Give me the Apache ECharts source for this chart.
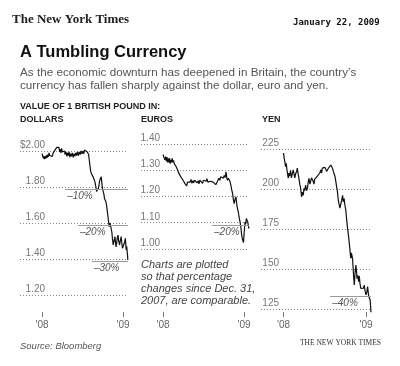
<!DOCTYPE html>
<html><head><meta charset="utf-8">
<script src="https://cdn.jsdelivr.net/npm/echarts@6/dist/echarts.min.js"></script>
<style>html,body{margin:0;padding:0;background:#fff}#c{width:400px;height:366px}</style>
</head><body><div id="c"></div>
<script>
// Days since Jan 1, 2008 -> value of 1 British pound
const usd = [[0,1.985],[3,1.975],[5,1.96],[7,1.972],[10,1.955],[13,1.97],[16,1.958],[19,1.975],[22,1.962],[25,1.98],[28,1.968],[31,1.99],[34,1.975],[37,1.985],[40,1.965],[43,1.98],[46,1.97],[50,1.99],[54,1.985],[58,2.005],[62,2.0],[66,2.02],[70,2.03],[73,2.01],[76,2.02],[79,1.995],[82,2.01],[85,1.99],[88,2.015],[91,1.995],[95,2.005],[98,1.985],[101,2.0],[104,1.98],[108,1.995],[112,1.97],[115,1.99],[118,1.975],[122,1.995],[125,1.965],[128,1.985],[132,1.97],[136,1.99],[140,1.965],[144,1.985],[148,1.97],[152,1.99],[156,1.975],[160,1.995],[164,1.975],[168,1.995],[172,1.98],[176,2.0],[180,1.985],[184,2.0],[188,1.985],[192,2.005],[196,1.995],[200,2.008],[204,1.995],[207,2.0],[210,1.98],[213,1.95],[216,1.92],[219,1.89],[222,1.876],[225,1.88],[228,1.865],[231,1.855],[234,1.85],[237,1.835],[240,1.82],[243,1.8],[246,1.775],[249,1.765],[252,1.78],[255,1.795],[258,1.82],[261,1.84],[264,1.85],[267,1.857],[270,1.82],[273,1.79],[276,1.78],[279,1.76],[282,1.735],[285,1.725],[288,1.72],[291,1.7],[294,1.67],[297,1.64],[300,1.61],[303,1.58],[306,1.6],[309,1.585],[312,1.575],[315,1.55],[318,1.51],[321,1.478],[325,1.5],[329,1.524],[332,1.49],[334,1.467],[337,1.49],[340,1.52],[343,1.533],[346,1.5],[350,1.478],[353,1.5],[357,1.524],[360,1.49],[363,1.46],[366,1.45],[369,1.47],[372,1.49],[376,1.515],[378,1.48],[380,1.45],[382,1.47],[384,1.46],[386,1.42],[387,1.394]];
const eur = [[0,1.36],[3,1.35],[5,1.357],[8,1.34],[11,1.352],[14,1.335],[17,1.35],[20,1.33],[23,1.345],[26,1.33],[29,1.345],[32,1.325],[35,1.34],[38,1.33],[41,1.345],[44,1.33],[47,1.338],[50,1.325],[54,1.33],[58,1.315],[62,1.318],[66,1.3],[70,1.29],[74,1.285],[78,1.29],[82,1.272],[86,1.275],[90,1.262],[94,1.265],[98,1.25],[102,1.245],[106,1.24],[110,1.255],[114,1.25],[118,1.262],[122,1.255],[126,1.265],[130,1.25],[134,1.26],[138,1.252],[142,1.262],[146,1.255],[150,1.265],[154,1.252],[158,1.26],[162,1.248],[166,1.262],[170,1.255],[174,1.265],[178,1.25],[182,1.262],[186,1.255],[190,1.265],[194,1.258],[198,1.268],[202,1.255],[206,1.262],[210,1.25],[214,1.258],[218,1.252],[222,1.262],[226,1.255],[230,1.26],[234,1.25],[238,1.245],[241,1.243],[244,1.255],[248,1.262],[252,1.27],[256,1.262],[260,1.275],[264,1.268],[268,1.278],[272,1.27],[276,1.28],[280,1.272],[284,1.294],[288,1.27],[291,1.262],[295,1.27],[299,1.275],[303,1.255],[306,1.243],[310,1.225],[314,1.211],[317,1.19],[321,1.173],[325,1.19],[329,1.199],[332,1.175],[336,1.154],[340,1.14],[343,1.122],[347,1.105],[351,1.085],[355,1.053],[359,1.035],[363,1.025],[366,1.059],[368,1.08],[370,1.103],[373,1.095],[376,1.116],[379,1.11],[382,1.104],[385,1.09],[388,1.078]];
const jpy = [[0,222.5],[3,219],[6,217],[9,214],[12,216],[15,212],[18,213],[21,206.7],[24,210],[27,208],[31,211.6],[35,207],[39,208],[43,212],[46,211.6],[50,207],[54,209.7],[58,211],[61,213],[64,210],[68,207],[72,203],[76,200.4],[80,195],[83,198],[87,196],[91,200.4],[94,199],[98,202.5],[102,199],[106,200.4],[110,205],[113,206.7],[117,203],[120,204.6],[124,207],[128,208],[131,205],[135,203],[138,206],[142,206.7],[146,205],[150,208],[154,207],[157,209],[161,210],[165,211.9],[169,210],[172,213],[176,212],[180,211.9],[184,213.5],[187,213],[191,211],[195,211.9],[199,213],[202,214],[206,213],[210,215],[213,214],[217,213],[221,211],[224,211],[228,208],[232,204.6],[236,201],[239,198.5],[243,193],[247,190],[250,188],[254,188],[258,193],[262,196],[265,192],[269,194],[272,190],[276,187],[280,181],[284,175.4],[288,171],[291,167],[294,163],[297,158],[299,156.7],[301,160],[303,160.3],[306,156.7],[309,150],[311,145],[314,140],[317,147],[321,152.5],[324,148],[326,144],[330,146],[333,142],[336,145.6],[339,141],[343,137.9],[347,139],[351,137],[355,138],[358,140],[362,136],[366,133.8],[370,136],[373,139],[376,135],[378,133],[381,132],[384,130.6],[386,127],[388,123]];

// Value on Dec. 31, 2007 used for percentage reference lines
const baseValues = [1.985, 1.363, 222];
const panelNames = ['DOLLARS', 'EUROS', 'YEN'];
// [percent change, first day the reference line is drawn]
const usdPct = [[-10,104],[-20,162],[-30,225]];
const eurPct = [[-20,221]];
const jpyPct = [[-40,207]];
const yearTickDays = [0, 366];
const yearTickLabels = ["'08", "'09"];
const yRanges = [[1.2, 2.0, 0.2], [1.0, 1.4, 0.1], [125, 225, 25]];

// layout
const gridBoxes = [
  {left: 20, top: 151, width: 108, height: 144, xOffset: 17, labelMargin: 25},
  {left: 141, top: 144, width: 108, height: 105, xOffset: 63, labelMargin: 19},
  {left: 261, top: 149, width: 110, height: 160, xOffset: 3, labelMargin: 18}
];
const xMin = -100, xMax = 388;
const seriesData = [usd, eur, jpy];
const pctData = [usdPct, eurPct, jpyPct];
const fmt = [
  v => (Math.abs(v - 2) < 1e-6 ? '$2.00' : v.toFixed(2)),
  v => v.toFixed(2),
  v => String(Math.round(v))
];

const chart = echarts.init(document.getElementById('c'), null, {renderer: 'canvas'});
const grid = [], xAxis = [], yAxis = [], series = [];
gridBoxes.forEach((g, i) => {
  grid.push({left: g.left, top: g.top, width: g.width, height: g.height, containLabel: false});
  xAxis.push({
    type: 'value', gridIndex: i, min: xMin, max: xMax, position: 'bottom', offset: g.xOffset,
    axisLine: {show: false},
    axisTick: {show: true, customValues: yearTickDays, length: 5, lineStyle: {color: '#777', width: 1}},
    axisLabel: {show: true, customValues: yearTickDays, margin: 8, color: '#666', fontSize: 10,
      fontFamily: 'Liberation Sans, Arial, sans-serif',
      formatter: v => yearTickLabels[yearTickDays.indexOf(v)] || ''},
    splitLine: {show: false}
  });
  const r = yRanges[i];
  yAxis.push({
    type: 'value', gridIndex: i, min: r[0], max: r[1], interval: r[2],
    axisLine: {show: false}, axisTick: {show: false},
    axisLabel: {inside: true, align: 'right', verticalAlign: 'bottom', margin: g.labelMargin,
      color: '#777', fontSize: 10, fontFamily: 'Liberation Sans, Arial, sans-serif',
      formatter: fmt[i], padding: [0, 0, 1, 0]},
    splitLine: {show: true, lineStyle: {color: '#888', width: 1, type: [1, 2]}}
  });
  const ml = pctData[i].map(p => {
    const v = baseValues[i] * (1 + p[0] / 100);
    return [{coord: [p[1], v], name: '\u2013' + Math.abs(p[0]) + '%'}, {coord: [xMax, v]}];
  });
  series.push({
    type: 'line', xAxisIndex: i, yAxisIndex: i, data: seriesData[i],
    showSymbol: false, symbol: 'none', clip: false, animation: false,
    lineStyle: {color: '#111', width: 1.2},
    markLine: {
      silent: true, symbol: ['none', 'none'], animation: false,
      lineStyle: {color: '#9a9a9a', width: 1, type: 'solid'},
      label: {show: true, position: 'insideStartBottom', formatter: '{b}', color: '#555',
        fontStyle: 'italic', fontSize: 10, fontFamily: 'Liberation Sans, Arial, sans-serif', distance: 2},
      data: ml
    },
    z: 3
  });
});

const sans = 'Liberation Sans, Arial, Helvetica, sans-serif';
const graphic = [
  {type: 'text', left: 12, top: 13, style: {text: 'The New York Times', font: 'bold 13px "Liberation Serif", "DejaVu Serif", serif', fill: '#222'}},
  {type: 'text', left: 293, top: 18, style: {text: 'January 22, 2009', font: 'bold 9px "DejaVu Sans Mono", monospace', fill: '#111'}},
  {type: 'text', left: 20, top: 44, style: {text: 'A Tumbling Currency', font: 'bold 16.5px ' + sans, fill: '#111'}},
  {type: 'text', left: 20, top: 66, style: {text: "As the economic downturn has deepened in Britain, the country\u2019s\ncurrency has fallen sharply against the dollar, euro and yen.", font: '11.7px ' + sans, fill: '#555', lineHeight: 13}},
  {type: 'text', left: 20, top: 102, style: {text: 'VALUE OF 1 BRITISH POUND IN:', font: 'bold 9px ' + sans, fill: '#222'}},
  {type: 'text', left: 20, top: 115, style: {text: panelNames[0], font: 'bold 9px ' + sans, fill: '#222'}},
  {type: 'text', left: 141, top: 115, style: {text: panelNames[1], font: 'bold 9px ' + sans, fill: '#222'}},
  {type: 'text', left: 262, top: 115, style: {text: panelNames[2], font: 'bold 9px ' + sans, fill: '#222'}},
  {type: 'text', left: 141, top: 259, style: {text: 'Charts are plotted\nso that percentage\nchanges since Dec. 31,\n2007, are comparable.', font: 'italic 11px ' + sans, fill: '#444', lineHeight: 12}},
  {type: 'text', left: 20, top: 341, style: {text: 'Source: Bloomberg', font: 'italic 9.5px ' + sans, fill: '#555'}},
  {type: 'text', left: 300, top: 339, style: {text: 'THE NEW YORK TIMES', font: '7.5px "Liberation Serif", serif', fill: '#333'}}
];

chart.setOption({animation: false, backgroundColor: '#fff', grid, xAxis, yAxis, series, graphic});
</script></body></html>
